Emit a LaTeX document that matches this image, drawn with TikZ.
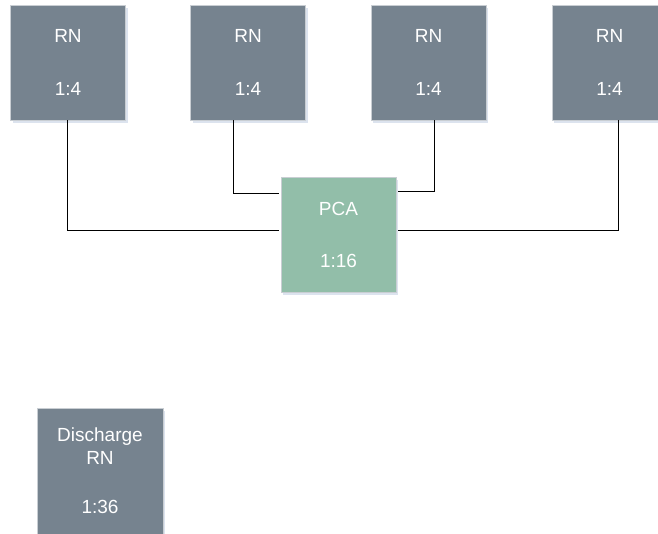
\documentclass[tikz,border=0pt]{standalone}
\usepackage{fontspec}
\setmainfont{Liberation Sans}
\definecolor{rngray}{HTML}{76838F}
\definecolor{pcagreen}{HTML}{92BEA9}
\definecolor{boxedge}{HTML}{C9CED3}
\definecolor{shadowc}{HTML}{DCE3EE}
\tikzset{
  box/.style={draw=boxedge, line width=0.8pt, minimum width=115pt, minimum height=115pt, inner sep=0pt,
    text=white, align=center, font=\fontsize{19}{23}\selectfont,
    append after command={}},
  rnbox/.style={box, fill=rngray},
  pcabox/.style={box, fill=pcagreen},
  link/.style={draw=black, line width=0.9pt, shorten >=2pt}
}
\begin{document}
\begin{tikzpicture}[x=1pt,y=-1pt]
\useasboundingbox (0,0) rectangle (658,534);
\clip (0,0) rectangle (658,534);
% shadows
\foreach \cx/\cy/\s in {68/62.5/115, 248/62.5/115, 428.5/62.5/115, 609.5/62.5/115, 338.5/234.5/115, 100/471/126}{
  \fill[shadowc] (\cx-\s/2+2,\cy-\s/2+3) rectangle (\cx+\s/2+2,\cy+\s/2+3);
}
\node[rnbox] (rn1) at (68,62.5) {RN\\[30pt]1:4};
\node[rnbox] (rn2) at (248,62.5) {RN\\[30pt]1:4};
\node[rnbox] (rn3) at (428.5,62.5) {RN\\[30pt]1:4};
\node[rnbox] (rn4) at (609.5,62.5) {RN\\[30pt]1:4};
\node[pcabox] (pca) at (338.5,234.5) {PCA\\[29pt]1:16};
\node[rnbox, minimum width=126pt, minimum height=126pt] (dis) at (100,471) {Discharge\\RN\\[26pt]1:36};
\draw[link] ([xshift=-1pt]rn1.south) |- ([yshift=4.5pt]pca.west);
\draw[link] ([xshift=-15pt]rn2.south) |- ([yshift=-17pt]pca.north west);
\draw[link] ([xshift=5.5pt]rn3.south) |- ([yshift=-15pt]pca.north east);
\draw[link] ([xshift=8.5pt]rn4.south) |- ([yshift=4.5pt]pca.east);
\end{tikzpicture}
\end{document}
